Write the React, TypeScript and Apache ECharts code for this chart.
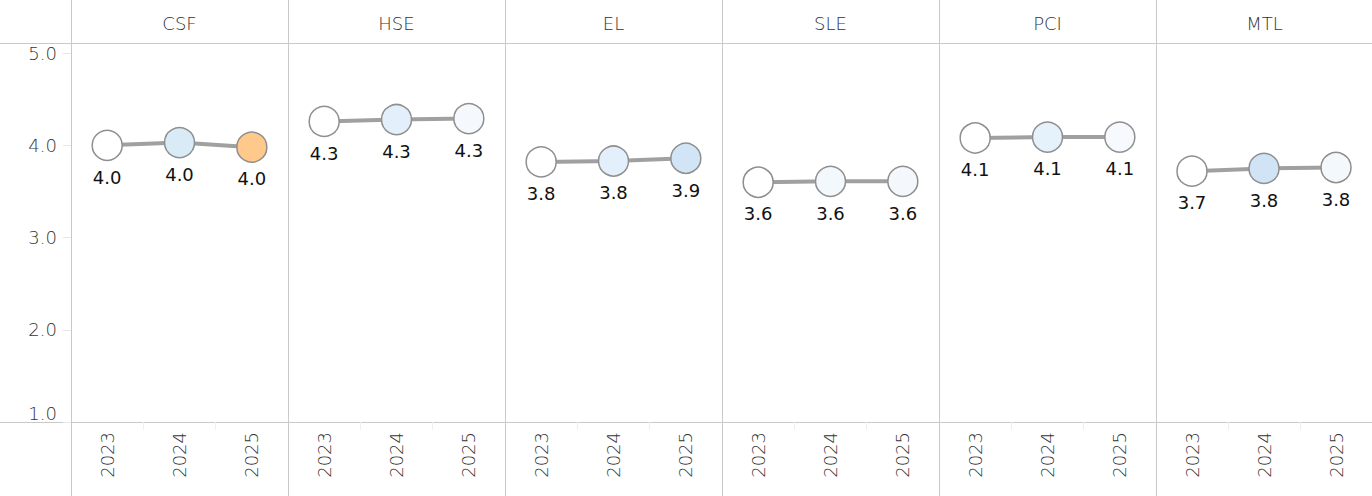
import React, { useEffect, useRef } from "react";
import * as echarts from "echarts";

// ---- data ----
const PANELS = ["CSF", "HSE", "EL", "SLE", "PCI", "MTL"];
const YEARS = ["2023", "2024", "2025"];
const CSF = [4.0, 4.03, 3.98];
const HSE = [4.26, 4.28, 4.29];
const EL = [3.82, 3.83, 3.86];
const SLE = [3.6, 3.61, 3.61];
const PCI = [4.08, 4.09, 4.09];
const MTL = [3.72, 3.75, 3.76];
const SERIES_VALUES = [CSF, HSE, EL, SLE, PCI, MTL];
const CSF_FILL = ["#ffffff", "#daebf8", "#fec98a"];
const HSE_FILL = ["#ffffff", "#e3effa", "#f5f9fd"];
const EL_FILL = ["#ffffff", "#e3effa", "#d2e5f6"];
const SLE_FILL = ["#ffffff", "#f3f8fd", "#f4f8fd"];
const PCI_FILL = ["#ffffff", "#e5f1fb", "#f6fafe"];
const MTL_FILL = ["#ffffff", "#d0e4f5", "#f3f8fd"];
const SERIES_FILLS = [CSF_FILL, HSE_FILL, EL_FILL, SLE_FILL, PCI_FILL, MTL_FILL];
const Y_MIN = 1;
const Y_MAX = 5.11;
const Y_INTERVAL = 1;

// ---- layout ----
const W = 1372;
const H = 496;
const LEFT = 71;
const PANEL_W = 217;
const TOP = 43;
const BOTTOM_LINE = 422;
const RULE = "#c9c9c9";
const TEXT = "#333333";
const FONT = '"DejaVu Sans", sans-serif';

export default function App() {
  const ref = useRef<HTMLDivElement>(null);
  useEffect(() => {
    if (!ref.current) return;
    const chart = echarts.init(ref.current, undefined, { renderer: "svg" });
    const grids = PANELS.map((_, i) => ({
      left: LEFT + i * PANEL_W,
      top: TOP,
      width: PANEL_W,
      height: BOTTOM_LINE - TOP,
      containLabel: false,
    }));
    const xAxes = PANELS.map((_, i) => ({
      type: "category",
      gridIndex: i,
      data: YEARS,
      boundaryGap: true,
      axisLine: { show: false },
      axisTick: { show: true, length: 8, lineStyle: { color: "#efefef", width: 1 } },
      axisLabel: {
        rotate: 90,
        margin: 10,
        fontSize: 18,
        fontFamily: FONT,
        fontWeight: 300,
        color: TEXT,
      },
      splitLine: { show: false },
    }));
    const yAxes = PANELS.map((_, i) => ({
      type: "value",
      gridIndex: i,
      min: Y_MIN,
      max: Y_MAX,
      interval: Y_INTERVAL,
      axisLine: { show: false },
      axisTick: { show: i === 0, length: 8, lineStyle: { color: "#e6e6e6" } },
      axisLabel: {
        show: i === 0,
        margin: 14,
        fontSize: 18,
        fontFamily: FONT,
        fontWeight: 300,
        color: TEXT,
        showMaxLabel: false,
        hideOverlap: false,
        formatter: (v: number) => v.toFixed(1),
        verticalAlignMinLabel: "bottom",
      },
      splitLine: { show: false },
    }));
    const series = SERIES_VALUES.map((vals, i) => ({
      type: "line",
      xAxisIndex: i,
      yAxisIndex: i,
      data: vals.map((v, j) => ({ value: v, itemStyle: { color: SERIES_FILLS[i][j] } })),
      symbol: "circle",
      symbolSize: 30,
      showAllSymbol: true,
      lineStyle: { color: "#a0a0a0", width: 4 },
      itemStyle: { borderColor: "#8f8f8f", borderWidth: 1.5, opacity: 1 },
      label: {
        show: true,
        position: "bottom",
        distance: 7,
        fontSize: 18,
        fontFamily: FONT,
        color: "#111111",
        formatter: (p: any) => Number(p.value).toFixed(1),
      },
      emphasis: { disabled: true },
      z: 3,
    }));
    const graphics: any[] = [];
    for (let i = 0; i <= PANELS.length; i++) {
      graphics.push({
        type: "line",
        shape: { x1: LEFT + i * PANEL_W + 0.5, y1: 0, x2: LEFT + i * PANEL_W + 0.5, y2: H },
        style: { stroke: RULE, lineWidth: 1 },
        silent: true,
        z: 1,
      });
    }
    graphics.push({
      type: "line",
      shape: { x1: 0, y1: TOP + 0.5, x2: W, y2: TOP + 0.5 },
      style: { stroke: RULE, lineWidth: 1 },
      silent: true,
    });
    graphics.push({
      type: "line",
      shape: { x1: 0, y1: BOTTOM_LINE + 0.5, x2: W, y2: BOTTOM_LINE + 0.5 },
      style: { stroke: RULE, lineWidth: 1 },
      silent: true,
    });
    PANELS.forEach((p, i) => {
      graphics.push({
        type: "text",
        x: LEFT + i * PANEL_W + PANEL_W / 2,
        y: TOP / 2 + 2,
        style: {
          text: p,
          fill: TEXT,
          font: `300 18px ${FONT}`,
          textAlign: "center",
          textVerticalAlign: "middle",
        },
        silent: true,
      });
    });
    chart.setOption({
      animation: false,
      grid: grids,
      xAxis: xAxes,
      yAxis: yAxes,
      series,
      graphic: graphics,
    });
    return () => chart.dispose();
  }, []);
  return (
    <div
      ref={ref}
      style={{ position: "fixed", left: 0, top: 0, width: W, height: H, background: "#ffffff" }}
    />
  );
}
